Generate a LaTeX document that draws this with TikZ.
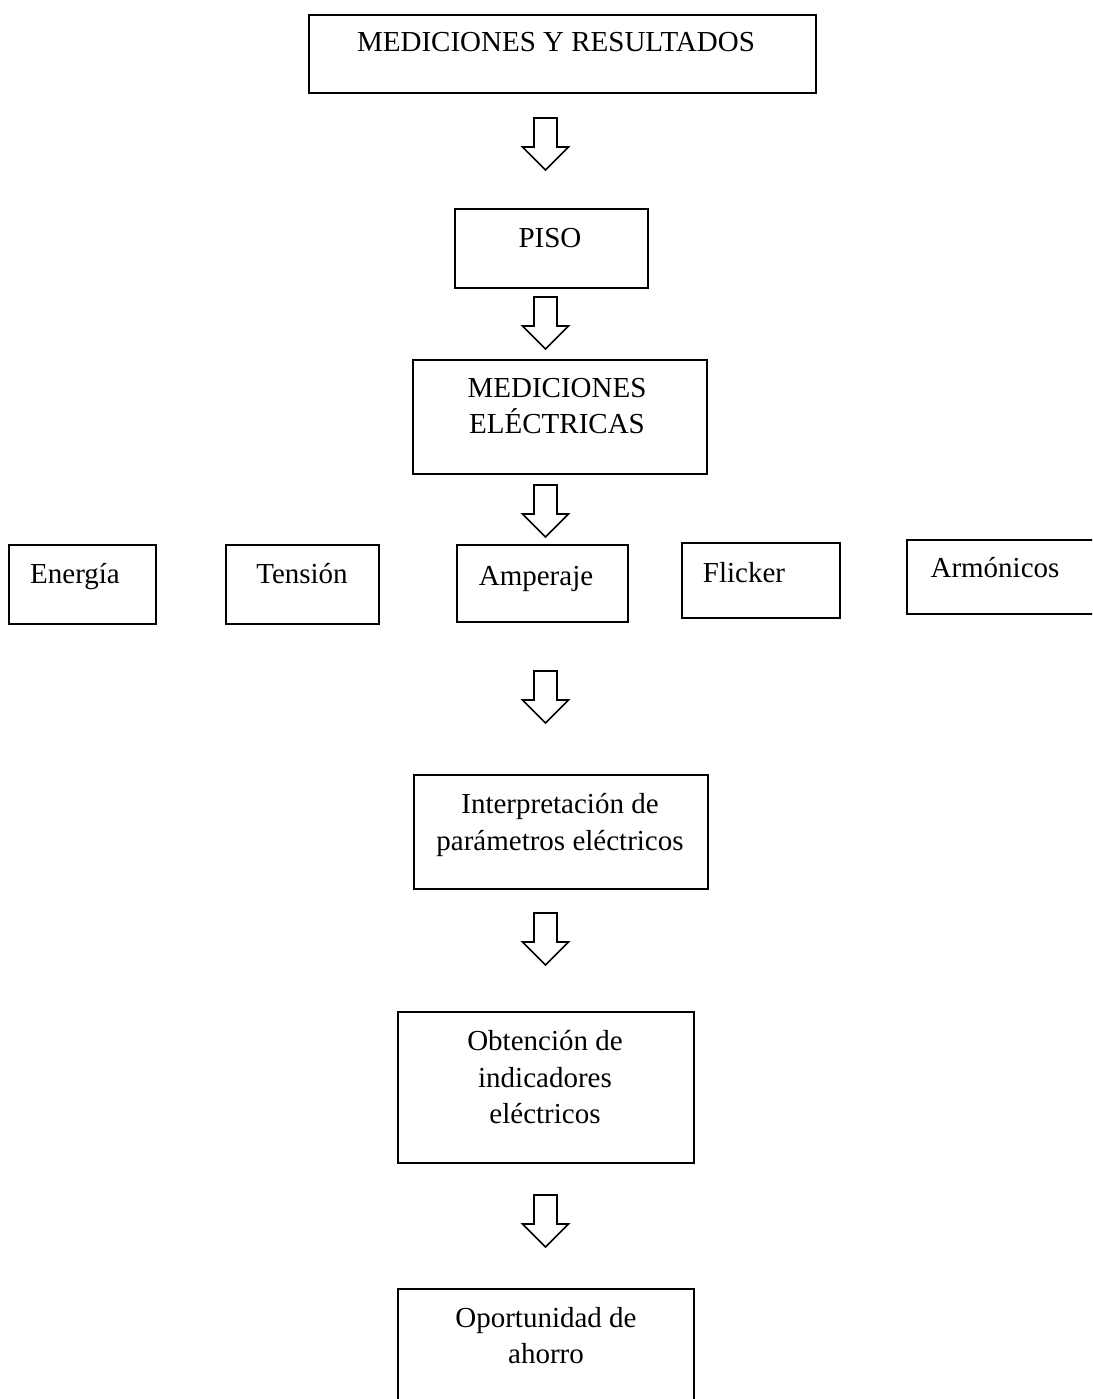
\documentclass[tikz,border=0pt]{standalone}
\usepackage{fontspec}
\setmainfont{Liberation Serif}
\begin{document}
\begin{tikzpicture}[x=1pt,y=-1pt,
  box/.style={draw, line width=1.6pt, inner sep=0pt, anchor=north west},
  lbl/.style={font=\fontsize{29}{36}\selectfont, inner sep=0pt, anchor=base},
  blockarrow/.pic={\draw[line width=1.6pt, line join=miter, miter limit=10]
     (-11.5,0) -- (11.5,0) -- (11.5,29) -- (23,29) -- (0,52) -- (-23,29) -- (-11.5,29) -- cycle;}]
\clip (0,0) rectangle (1092,1399);
\fill[white] (0,0) rectangle (1092,1399);

% boxes
\node[box, minimum width=507pt, minimum height=78pt] (b1) at (308,14) {};
\node[box, minimum width=193pt, minimum height=79pt] (b2) at (454,208) {};
\node[box, minimum width=294pt, minimum height=114pt] (b3) at (412,359) {};
\node[box, minimum width=147pt, minimum height=79pt] (e1) at (8,544) {};
\node[box, minimum width=153pt, minimum height=79pt] (e2) at (225,544) {};
\node[box, minimum width=171pt, minimum height=77pt] (e3) at (456,544) {};
\node[box, minimum width=158pt, minimum height=75pt] (e4) at (681,542) {};
\node[box, minimum width=200pt, minimum height=74pt] (e5) at (906,539) {};
\node[box, minimum width=294pt, minimum height=114pt] (b4) at (413,774) {};
\node[box, minimum width=296pt, minimum height=151pt] (b5) at (397,1011) {};
\node[box, minimum width=296pt, minimum height=130pt] (b6) at (397,1288) {};

% texts
\node[lbl] (t1) at (556,52) {MEDICIONES Y RESULTADOS};
\node[lbl] (t2) at (550,247) {PISO};
\node[lbl] (t3a) at (557,397) {MEDICIONES};
\node[lbl] (t3b) at (557,433) {ELÉCTRICAS};
\node[lbl] (te1) at (75,583) {Energía};
\node[lbl] (te2) at (302,583) {Tensión};
\node[lbl] (te3) at (536,585) {Amperaje};
\node[lbl] (te4) at (744,582) {Flicker};
\node[lbl] (te5) at (995,577) {Armónicos};
\node[lbl] (t4a) at (560,813) {Interpretación de};
\node[lbl] (t4b) at (560,850) {parámetros eléctricos};
\node[lbl] (t5a) at (545,1050) {Obtención de};
\node[lbl] (t5b) at (545,1087) {indicadores};
\node[lbl] (t5c) at (545,1123) {eléctricos};
\node[lbl] (t6a) at (546,1327) {Oportunidad de};
\node[lbl] (t6b) at (546,1363) {ahorro};

% block arrows
\pic (a1) at (545.5,118) {blockarrow};
\pic (a2) at (545.5,297) {blockarrow};
\pic (a3) at (545.5,485) {blockarrow};
\pic (a4) at (545.5,671) {blockarrow};
\pic (a5) at (545.5,913) {blockarrow};
\pic (a6) at (545.5,1195) {blockarrow};
\end{tikzpicture}
\end{document}
